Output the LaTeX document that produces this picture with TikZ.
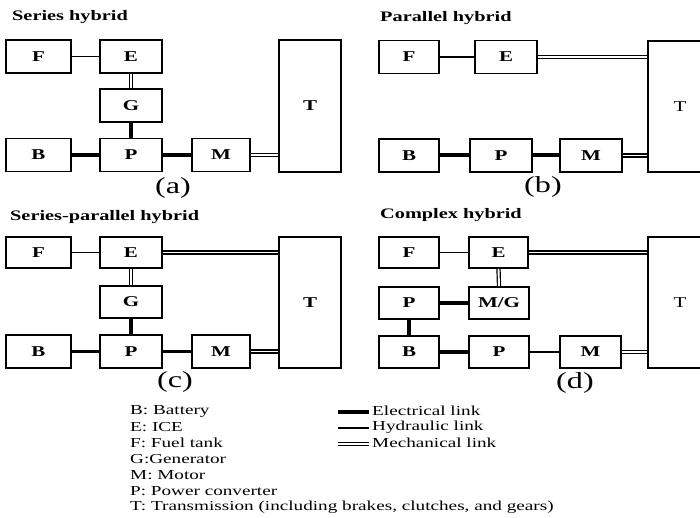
\documentclass[tikz,border=0pt]{standalone}
\usepackage{fontspec}
\setmainfont{Liberation Serif}[BoldFont={Liberation Serif Bold}, FakeStretch=1.4]
\begin{document}
\begin{tikzpicture}[x=1pt,y=-1pt,
  box/.style={draw, line width=1.8pt, minimum width=62pt, minimum height=33pt, inner sep=0pt, font=\fontsize{15}{15}\selectfont\bfseries},
  tbox/.style={draw, line width=1.8pt, inner sep=0pt, font=\fontsize{15}{15}\selectfont\bfseries},
  elec/.style={line width=4pt},
  elecm/.style={line width=2.8pt},
  hyd/.style={line width=1.6pt},
  mech/.style={double, line width=1.2pt, double distance=1.9pt},
  ttl/.style={anchor=west, inner sep=0pt, font=\fontsize{14.5}{15}\selectfont\bfseries},
  plab/.style={inner sep=0pt, font=\fontsize{23}{23}\selectfont},
  leg/.style={anchor=west, inner sep=0pt, font=\fontsize{13.7}{14}\selectfont}]
\useasboundingbox[fill=white] (0,0) rectangle (700,518);

% (a) Series hybrid
\node[ttl] (at) at (12,17) {Series hybrid};
\node[box, minimum width=65pt] (aF) at (38.5,56.5) {F};
\node[box] (aE) at (131,56.5) {E};
\node[box] (aG) at (131,105.5) {G};
\node[box, minimum width=65pt] (aB) at (38.5,155) {B};
\node[box] (aP) at (131,155) {P};
\node[box, minimum width=58pt] (aM) at (221,155) {M};
\node[tbox, minimum width=62pt, minimum height=132pt] (aT) at (310,106) {T};
\node[plab] (al) at (173,188) {(a)};
\draw[hyd] (aF.east) -- (aE.west);
\draw[mech] (aE.south) -- (aG.north);
\draw[elec] (aG.south) -- (aP.north);
\draw[elec] (aB.east) -- (aP.west);
\draw[elec] (aP.east) -- (aM.west);
\draw[mech] (aM.east) -- (aM.east -| aT.west);

% (b) Parallel hybrid
\node[ttl] (bt) at (380,18) {Parallel hybrid};
\node[box, minimum width=60pt] (bF) at (409,57) {F};
\node[box] (bE) at (506,57) {E};
\node[box, minimum width=60pt] (bB) at (409,155.5) {B};
\node[box] (bP) at (501,155.5) {P};
\node[box] (bM) at (591,155.5) {M};
\node[tbox, minimum width=64pt, minimum height=131pt, font=\fontsize{15}{15}\selectfont] (bT) at (680,106.5) {T};
\node[plab] (bl) at (543,187) {(b)};
\draw[hyd] (bF.east) -- (bE.west);
\draw[mech] (bE.east) -- (bE.east -| bT.west);
\draw[elec] (bB.east) -- (bP.west);
\draw[elec] (bP.east) -- (bM.west);
\draw[mech] (bM.east) -- (bM.east -| bT.west);

% (c) Series-parallel hybrid
\node[ttl] (ct) at (10,217) {Series-parallel hybrid};
\node[box, minimum width=65pt, minimum height=31pt] (cF) at (38.5,252.5) {F};
\node[box, minimum height=31pt] (cE) at (131,252.5) {E};
\node[box, minimum height=32pt] (cG) at (131,302) {G};
\node[box, minimum width=65pt] (cB) at (38.5,351.5) {B};
\node[box] (cP) at (131,351.5) {P};
\node[box, minimum width=58pt] (cM) at (221,351.5) {M};
\node[tbox, minimum width=62pt, minimum height=131pt] (cT) at (310,302.5) {T};
\node[plab] (cl) at (175,382) {(c)};
\draw[hyd] (cF.east) -- (cE.west);
\draw[mech] (cE.east) -- (cE.east -| cT.west);
\draw[mech] (cE.south) -- (cG.north);
\draw[elec] (cG.south) -- (cP.north);
\draw[elecm] (cB.east) -- (cP.west);
\draw[elecm] (cP.east) -- (cM.west);
\draw[mech] (cM.east) -- (cM.east -| cT.west);

% (d) Complex hybrid
\node[ttl] (dt) at (380,215) {Complex hybrid};
\node[box, minimum width=60pt, minimum height=31pt] (dF) at (409,252.5) {F};
\node[box, minimum width=59pt, minimum height=31pt] (dE) at (498.5,252.5) {E};
\node[box, minimum width=60pt, minimum height=32pt] (dP1) at (409,303) {P};
\node[box, minimum width=60pt, minimum height=32pt] (dMG) at (499,303) {M/G};
\node[box, minimum width=60pt, minimum height=32pt] (dB) at (409,352) {B};
\node[box, minimum width=60pt, minimum height=32pt] (dP2) at (499,352) {P};
\node[box, minimum width=61pt, minimum height=32pt] (dM) at (590.5,352) {M};
\node[tbox, minimum width=64pt, minimum height=131pt, font=\fontsize{15}{15}\selectfont] (dT) at (680,302.5) {T};
\node[plab] (dl) at (575,383) {(d)};
\draw[hyd] (dF.east) -- (dE.west);
\draw[mech] (dE.east) -- (dE.east -| dT.west);
\draw[mech] (dE.south) -- (dMG.north);
\draw[elec] (dP1.east) -- (dMG.west);
\draw[elec] (dP1.south) -- (dB.north);
\draw[elec] (dB.east) -- (dP2.west);
\draw[elecm] (dP2.east) -- (dM.west);
\draw[mech] (dM.east) -- (dM.east -| dT.west);

% Legend
\node[leg] (l1) at (130,411) {B: Battery};
\node[leg] (l2) at (130,427) {E: ICE};
\node[leg] (l3) at (130,443) {F: Fuel tank};
\node[leg] (l4) at (130,459) {G:Generator};
\node[leg] (l5) at (130,475) {M: Motor};
\node[leg] (l6) at (130,491) {P: Power converter};
\node[leg] (l7) at (130,507) {T: Transmission (including brakes, clutches, and gears)};
\node[leg] (r1) at (372,411) {Electrical link};
\node[leg] (r2) at (372,427) {Hydraulic link};
\node[leg] (r3) at (372,443) {Mechanical link};
\coordinate (e1) at (338,412);
\coordinate (h1) at (338,428);
\coordinate (m1) at (338,444);
\draw[line width=3.4pt] (e1) -- ([xshift=-3pt]e1 -| r1.west);
\draw[line width=1.2pt] (h1) -- ([xshift=-3pt]h1 -| r2.west);
\draw[mech] (m1) -- ([xshift=-3pt]m1 -| r3.west);
\end{tikzpicture}
\end{document}
